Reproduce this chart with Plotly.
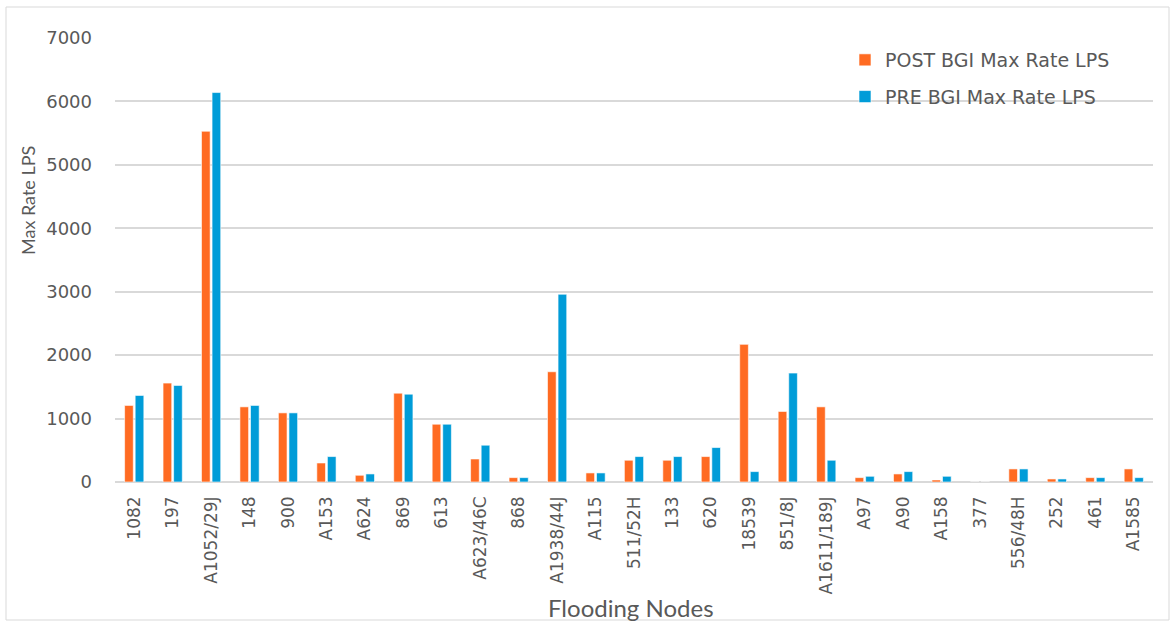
import plotly.graph_objects as go

nodes = ["1082", "197", "A1052/29J", "148", "900", "A153", "A624", "869", "613",
         "A623/46C", "868", "A1938/44J", "A115", "511/52H", "133", "620", "18539",
         "851/8J", "A1611/189J", "A97", "A90", "A158", "377", "556/48H", "252",
         "461", "A1585"]
post_bgi = [1207, 1559, 5530, 1185, 1090, 300, 106, 1401, 911,
            363, 69, 1738, 143, 343, 343, 401, 2170,
            1112, 1185, 69, 127, 32, 0, 206, 48,
            69, 206]
pre_bgi = [1365, 1523, 6140, 1207, 1090, 401, 127, 1385, 911,
           580, 69, 2960, 143, 401, 401, 543, 164,
           1717, 343, 90, 164, 90, 0, 206, 48,
           69, 69]
y_ticks = [0, 1000, 2000, 3000, 4000, 5000, 6000, 7000]

ORANGE = "#FF6B22"
BLUE = "#009CD8"
GREY = "#595959"
TICK_FONT = dict(family="DejaVu Sans", size=17, color=GREY)

fig = go.Figure()
fig.add_trace(go.Bar(x=nodes, y=post_bgi, name="POST BGI Max Rate LPS",
                     marker=dict(color=ORANGE, line=dict(color="white", width=0.6)),
                     legendgroup="a"))
fig.add_trace(go.Bar(x=nodes, y=pre_bgi, name="PRE BGI Max Rate LPS",
                     marker=dict(color=BLUE, line=dict(color="white", width=0.6)),
                     legendgroup="b"))

L, R, T, B = 115, 22, 38, 143
W, H = 1175, 625
pw, ph = W - L - R, H - T - B

def px_x(p):
    return (p - L) / pw

def px_y(p):
    return (H - B - p) / ph

fig.update_layout(
    width=W, height=H,
    margin=dict(l=L, r=R, t=T, b=B),
    paper_bgcolor="white", plot_bgcolor="white",
    barmode="group", bargap=0.45, bargroupgap=0.18,
    font=dict(family="DejaVu Sans", color=GREY),
    legend=dict(x=px_x(845), y=px_y(41), xanchor="left", yanchor="top",
                bgcolor="rgba(0,0,0,0)", font=dict(family="DejaVu Sans", size=19, color=GREY),
                traceorder="grouped", tracegroupgap=9),
    xaxis=dict(tickangle=-90, tickfont=TICK_FONT, showgrid=False,
               showline=False, ticks="", ticklabelstandoff=10),
    yaxis=dict(range=[0, 7000], tickvals=y_ticks,
               tickfont=dict(family="DejaVu Sans", size=18, color=GREY),
               showgrid=True, gridcolor="#D9D9D9", gridwidth=1.5,
               zeroline=True, zerolinecolor="#D9D9D9", zerolinewidth=1.5,
               showline=False, ticks="", ticklabelstandoff=22),
    showlegend=True,
)

fig.add_annotation(text="Max Rate LPS", xref="paper", yref="paper",
                   x=px_x(28), y=px_y(201), xanchor="center", yanchor="middle",
                   textangle=-90, showarrow=False,
                   font=dict(family="Lato", size=18, color=GREY))
fig.add_annotation(text="Flooding Nodes", xref="paper", yref="paper",
                   x=px_x(631), y=px_y(607), xanchor="center", yanchor="middle",
                   showarrow=False,
                   font=dict(family="Lato", size=24, color=GREY))

fig.add_shape(type="rect", xref="paper", yref="paper",
              x0=px_x(6), x1=px_x(1169), y0=px_y(620), y1=px_y(7),
              line=dict(color="#D9D9D9", width=1), fillcolor="rgba(0,0,0,0)", layer="below")

fig.write_html("out.html")
